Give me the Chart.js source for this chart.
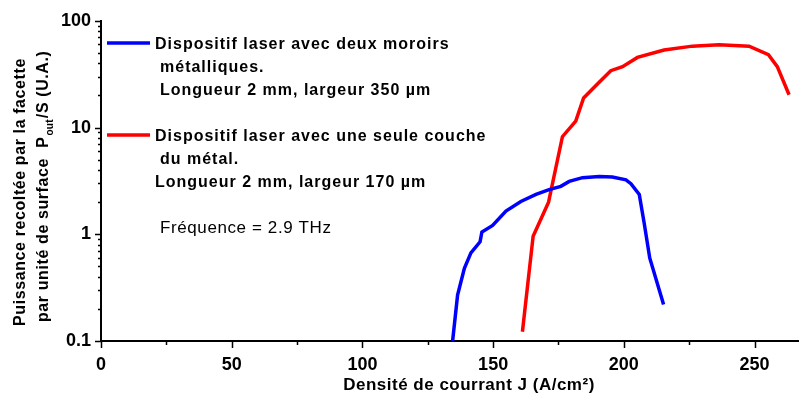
<!DOCTYPE html>
<html><head><meta charset="utf-8">
<script src="https://cdn.jsdelivr.net/npm/chart.js@4"></script>
<style>html,body{margin:0;padding:0;background:#fff}#wrap{width:799px;height:398px;position:relative}</style>
</head><body><div id="wrap"><canvas id="c" width="799" height="398"></canvas></div>
<script>
const xBlue = [134.5, 136.4, 139.0, 141.5, 145.0, 145.7, 149.8, 154.9, 160.6, 166.4, 171.4, 175.9, 179.1, 184.2, 190.6, 195.6, 200.8, 202.7, 205.9, 207.8, 209.9, 215.2];
const yBlue = [0.1, 0.27, 0.48, 0.67, 0.85, 1.05, 1.21, 1.65, 2.03, 2.36, 2.62, 2.81, 3.13, 3.39, 3.48, 3.44, 3.24, 2.98, 2.36, 1.26, 0.6, 0.22];
const xRed = [161.2, 165.3, 171.2, 176.5, 181.6, 184.6, 189.9, 195.0, 199.5, 205.2, 215.4, 226.2, 236.4, 247.9, 255.3, 258.7, 263.2];
const yRed = [0.122, 0.96, 2.0, 8.2, 11.5, 18.9, 25.6, 34.1, 37.2, 45.4, 53.2, 57.9, 59.7, 57.9, 48.1, 37.2, 20.3];
const xTicks = [0, 50, 100, 150, 200, 250];
const xMinorTicks = [25, 75, 125, 175, 225];
const yTicks = [0.1, 1, 10, 100];
const xTitle = 'Densité de courrant J (A/cm²)';
const yTitle1 = 'Puissance recoltée par la facette';
const yTitle2 = ['par unité de surface  P', 'out', '/S (U.A.)'];
const legendBlue = ['Dispositif laser avec deux moroirs', 'métalliques.', 'Longueur 2 mm, largeur 350 µm'];
const legendRed = ['Dispositif laser avec une seule couche', 'du métal.', 'Longueur 2 mm, largeur 170 µm'];
const note = 'Fréquence = 2.9 THz';

const FAM = "'Liberation Sans', Arial, sans-serif";
Chart.defaults.font.family = FAM;
Chart.defaults.color = '#000';

const toPts = (xs, ys) => xs.map((x, i) => ({x, y: ys[i]}));

function txt(ctx, s, x, y, font, spacing, align) {
  ctx.font = font;
  ctx.letterSpacing = (spacing || 0) + 'px';
  ctx.textAlign = align || 'left';
  ctx.textBaseline = 'alphabetic';
  ctx.fillText(s, x, y);
  const w = ctx.measureText(s).width;
  ctx.letterSpacing = '0px';
  return w;
}

const deco = {
  id: 'deco',
  afterDraw(chart) {
    const ctx = chart.ctx;
    const xs = chart.scales.x, ys = chart.scales.y;
    const ca = chart.chartArea;
    ctx.save();
    ctx.strokeStyle = '#000';
    ctx.lineWidth = 1.5;
    ctx.beginPath();
    xTicks.forEach(v => { const p = Math.round(xs.getPixelForValue(v)) + 0.5; ctx.moveTo(p, ca.bottom); ctx.lineTo(p, ca.bottom + 7); });
    xMinorTicks.forEach(v => { const p = Math.round(xs.getPixelForValue(v)) + 0.5; ctx.moveTo(p, ca.bottom); ctx.lineTo(p, ca.bottom + 4); });
    yTicks.forEach(v => { const p = Math.round(ys.getPixelForValue(v)) + 0.5; ctx.moveTo(ca.left, p); ctx.lineTo(ca.left - 6, p); });
    [0.1, 1, 10].forEach(d => { for (let k = 2; k <= 9; k++) { const p = Math.round(ys.getPixelForValue(d * k)) + 0.5; ctx.moveTo(ca.left, p); ctx.lineTo(ca.left - 3, p); } });
    ctx.stroke();

    ctx.fillStyle = '#000';
    ctx.lineWidth = 3.5;
    ctx.strokeStyle = '#0000FF';
    ctx.beginPath(); ctx.moveTo(107, 43); ctx.lineTo(150, 43); ctx.stroke();
    ctx.strokeStyle = '#FF0000';
    ctx.beginPath(); ctx.moveTo(107, 135); ctx.lineTo(150, 135); ctx.stroke();
    const bf = 'bold 16px ' + FAM;
    txt(ctx, legendBlue[0], 155, 49, bf, 1);
    txt(ctx, legendBlue[1], 160, 72, bf, 1);
    txt(ctx, legendBlue[2], 160, 95, bf, 1);
    txt(ctx, legendRed[0], 155, 141, bf, 1);
    txt(ctx, legendRed[1], 160, 164, bf, 1);
    txt(ctx, legendRed[2], 155, 187, bf, 1);
    txt(ctx, note, 160, 233, '17px ' + FAM, 0.6);
    txt(ctx, xTitle, 469, 390, 'bold 17px ' + FAM, 0.5, 'center');
    ctx.save();
    ctx.translate(25, 192); ctx.rotate(-Math.PI / 2);
    txt(ctx, yTitle1, 0, 0, 'bold 16px ' + FAM, 0.6, 'center');
    ctx.restore();
    ctx.save();
    ctx.translate(48, 322); ctx.rotate(-Math.PI / 2);
    let w = txt(ctx, yTitle2[0], 0, 0, 'bold 16px ' + FAM, 0.6);
    let w2 = txt(ctx, yTitle2[1], w + 1, 5, 'bold 10px ' + FAM, 0.3);
    txt(ctx, yTitle2[2], w + w2 + 2, 0, 'bold 16px ' + FAM, 0.6);
    ctx.restore();
    ctx.restore();
  }
};

new Chart(document.getElementById('c'), {
  type: 'scatter',
  data: {
    datasets: [
      { data: toPts(xBlue, yBlue), showLine: true, borderColor: '#0000FF', borderWidth: 3.5, pointRadius: 0, tension: 0 },
      { data: toPts(xRed, yRed), showLine: true, borderColor: '#FF0000', borderWidth: 3.5, pointRadius: 0, tension: 0 }
    ]
  },
  options: {
    responsive: false,
    animation: false,
    devicePixelRatio: 1,
    layout: { padding: { left: 0, right: 0, top: 20, bottom: 0 } },
    plugins: { legend: { display: false }, tooltip: { enabled: false } },
    scales: {
      x: {
        type: 'linear', min: 0, max: 267,
        afterBuildTicks: s => { s.ticks = xTicks.map(v => ({ value: v })); },
        afterFit: s => { s.height = 57; },
        grid: { display: false, drawTicks: false },
        border: { display: true, color: '#000', width: 2 },
        ticks: { padding: 13, font: { size: 18, weight: 'bold' }, color: '#000', maxRotation: 0 }
      },
      y: {
        type: 'logarithmic', min: 0.1, max: 100,
        afterBuildTicks: s => { s.ticks = yTicks.map(v => ({ value: v })); },
        afterFit: s => { s.width = 101; },
        grid: { display: false, drawTicks: false },
        border: { display: true, color: '#000', width: 2 },
        ticks: { padding: 10, font: { size: 18, weight: 'bold' }, color: '#000', callback: v => String(v) }
      }
    }
  },
  plugins: [deco]
});
</script>
</body></html>
